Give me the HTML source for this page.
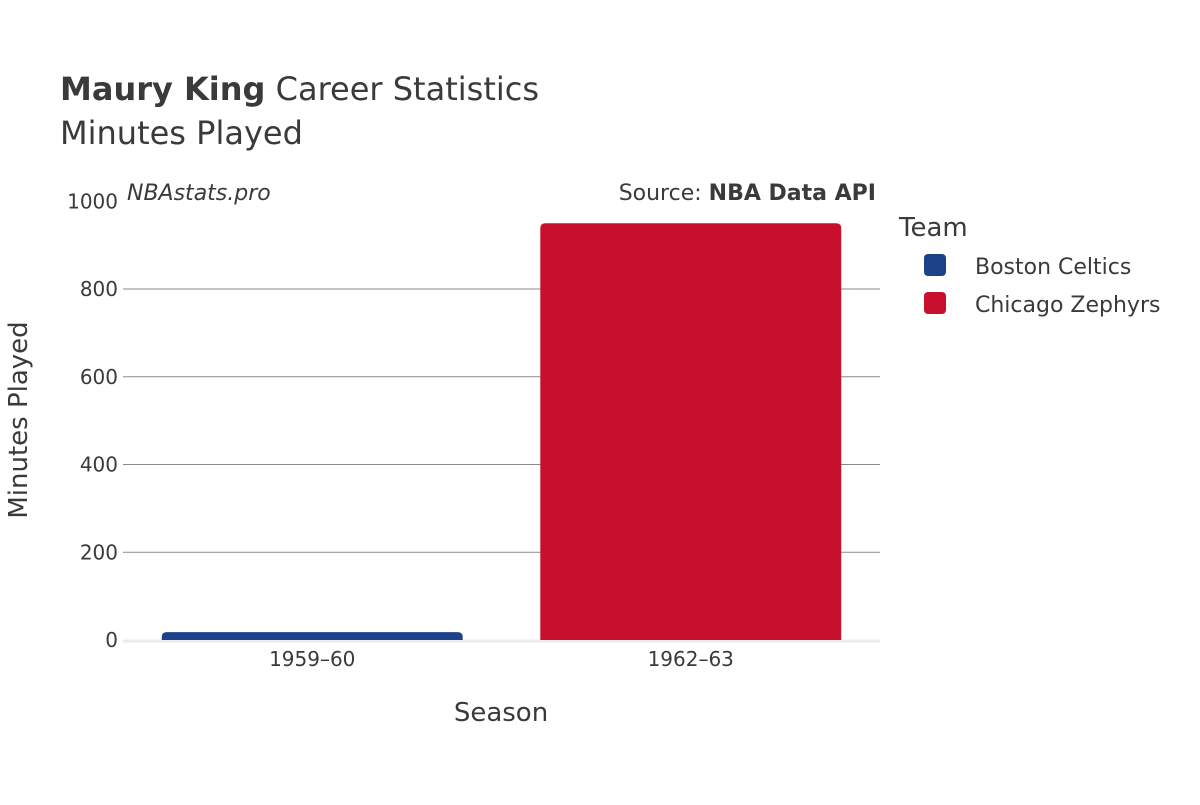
<!DOCTYPE html>
<html><head><meta charset="utf-8"><style>
body{margin:0;background:#fff;}
svg text{font-family:"DejaVu Sans","Liberation Sans",sans-serif;fill:#3a3a3a;}
</style></head><body>
<svg width="1200" height="800">
<text x="60" y="100" font-size="32"><tspan font-weight="bold">Maury King</tspan> Career Statistics</text>
<text x="60" y="144" font-size="32">Minutes Played</text>
<text x="127" y="200" font-size="22" font-style="italic">NBAstats.pro</text>
<text x="876" y="200" font-size="22" text-anchor="end">Source: <tspan font-weight="bold">NBA Data API</tspan></text>
<g id="grid"></g>
<g id="bars"></g>
<g id="xt"></g>
<text x="501" y="721" font-size="26" text-anchor="middle">Season</text>
<text transform="translate(27,420) rotate(-90)" font-size="26" text-anchor="middle">Minutes Played</text>
<text x="899" y="236" font-size="26">Team</text>
<g><rect x="924" y="254" width="22" height="22" rx="4" fill="#1d428a"/><text x="975" y="274" font-size="22">Boston Celtics</text></g>
<g><rect x="924" y="292" width="22" height="22" rx="4" fill="#c8102e"/><text x="975" y="312" font-size="22">Chicago Zephyrs</text></g>
</svg>
<script>
const categories=["1959–60","1962–63"];
const values=[18,950];
const colors=["#1d428a","#c8102e"];
const ticks=[0,200,400,600,800,1000];
const x0=123,x1=880,yb=640,yt=201.25,max=1000;
const ys=v=>yb-(yb-yt)*v/max;
const bw=(x1-x0)/categories.length;
const ns="http://www.w3.org/2000/svg";
const g=document.getElementById('grid'),b=document.getElementById('bars'),xt=document.getElementById('xt');
function mk(tag,at,p){const e=document.createElementNS(ns,tag);for(const k in at)e.setAttribute(k,at[k]);p.appendChild(e);return e;}
ticks.forEach(t=>{
  if(t>0&&t<max){const l=mk('line',{x1:x0,x2:x1,y1:ys(t),y2:ys(t),stroke:'#8a8a8a','stroke-width':1},g);
  
  }
  const tx=mk('text',{x:118,y:ys(t)+7,'font-size':20,'text-anchor':'end'},g);tx.textContent=t;
  
  
});
const z=mk('line',{x1:x0,x2:x1,y1:yb+1,y2:yb+1,stroke:'#ebebeb','stroke-width':3},g);


categories.forEach((c,i)=>{
  const cx=x0+bw*(i+0.5),w=bw*0.795,top=ys(values[i]);
  const h=yb-top;
  const p=mk('path',{d:`M${cx-w/2},${yb} V${top+5} Q${cx-w/2},${top} ${cx-w/2+5},${top} H${cx+w/2-5} Q${cx+w/2},${top} ${cx+w/2},${top+5} V${yb} Z`,fill:colors[i]},b);
  
  
  const t=mk('text',{x:cx,y:666,'font-size':20,'text-anchor':'middle'},xt);t.textContent=c;
  
  
});
</script>
</body></html>
